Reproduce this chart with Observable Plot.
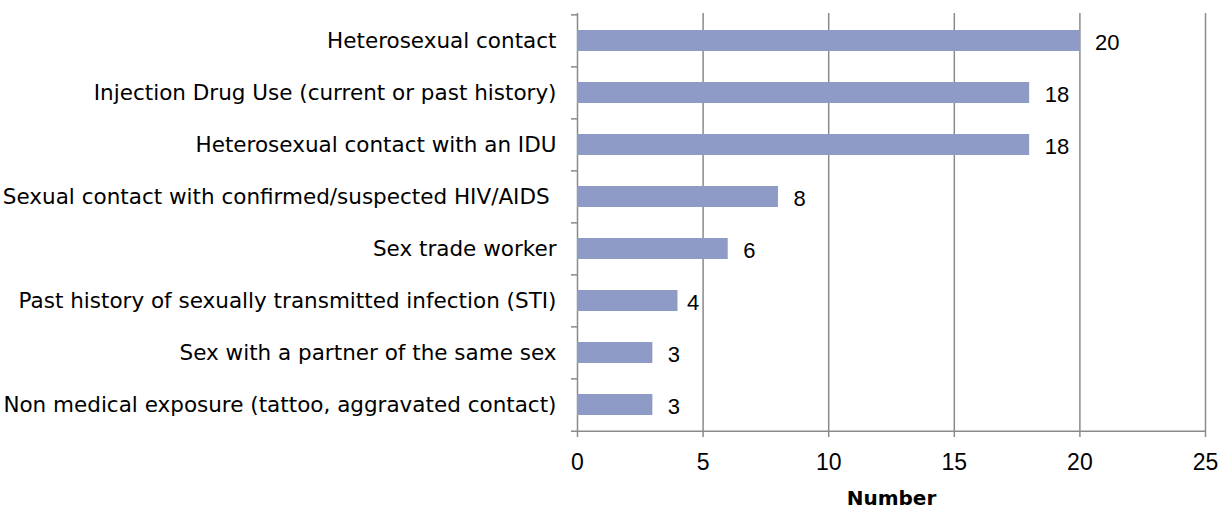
<!DOCTYPE html>
<html>
<head>
<meta charset="utf-8">
<script src="https://cdn.jsdelivr.net/npm/d3@7"></script>
<script src="https://cdn.jsdelivr.net/npm/@observablehq/plot@0.6"></script>
<style>
  html, body { margin: 0; padding: 0; background: #fff; }
  #chart { width: 1224px; height: 508px; }
</style>
</head>
<body>
<div id="chart"></div>
<script>
const categories = [
  "Heterosexual contact",
  "Injection Drug Use (current or past history)",
  "Heterosexual contact with an IDU",
  "Sexual contact with confirmed/suspected HIV/AIDS\u00a0",
  "Sex trade worker",
  "Past history of sexually transmitted infection (STI)",
  "Sex with a partner of the same sex",
  "Non medical exposure (tattoo, aggravated contact)"
];
const values = [20, 18, 18, 8, 6, 4, 3, 3];
const xTicks = [0, 5, 10, 15, 20, 25];
const gridTicks = [5, 10, 15, 20, 25];
const xLabel = "Number";

const data = categories.map((c, i) => ({category: c, value: values[i]}));

const W = 1224, H = 508;
const mL = 577, mR = 19, mT = 13, mB = 77;
const step = (H - mT - mB) / categories.length;
const gray = "#8a8a8a";
const numFont = "'Liberation Sans', Arial, sans-serif";
const labelFont = "'DejaVu Sans', sans-serif";
// labels that sit right next to a gridline are pulled closer to their bar
const nearGrid = d => gridTicks.includes(d.value) || gridTicks.includes(d.value + 1);

const chart = Plot.plot({
  width: W,
  height: H,
  marginLeft: mL,
  marginRight: mR,
  marginTop: mT,
  marginBottom: mB,
  style: {fontFamily: numFont, background: "#fff", color: "#000"},
  x: {domain: [0, 25], axis: null},
  y: {domain: categories, paddingInner: 0.6, paddingOuter: 0.3, axis: null},
  marks: [
    Plot.ruleX(gridTicks, {stroke: gray, strokeWidth: 1.5, insetBottom: -6}),
    Plot.ruleX([0], {stroke: gray, strokeWidth: 1.5, insetBottom: -6}),
    Plot.ruleY(categories, {y: d => d, x1: 0, x2: 0, insetLeft: -6, dy: -step / 2, stroke: gray, strokeWidth: 1.5}),
    Plot.ruleY([categories[categories.length - 1]], {y: d => d, x1: 0, x2: 25, insetLeft: -6, dy: step / 2, stroke: gray, strokeWidth: 1.5}),
    Plot.barX(data, {y: "category", x: "value", fill: "#8e9bc7"}),
    Plot.text(data, {filter: d => !(d.value === 4), y: "category", x: "value", text: d => String(d.value), textAnchor: "start", dx: 15, dy: 2, fontSize: 22, fill: "#000"}),
    Plot.text(data, {filter: d => d.value === 4, y: "category", x: "value", text: d => String(d.value), textAnchor: "start", dx: 9, dy: 2, fontSize: 22, fill: "#000"}),
    Plot.axisY({tickSize: 0, tickPadding: 21, fontSize: 21.5, fontFamily: labelFont, label: null, color: "#000", textOverflow: null}),
    Plot.axisX({ticks: xTicks, tickSize: 0, tickPadding: 22, fontSize: 23, label: null, color: "#000"}),
    Plot.text([xLabel], {frameAnchor: "bottom", dy: 73, fontSize: 20, fontFamily: labelFont, fontWeight: "bold", fill: "#000"})
  ]
});

document.getElementById("chart").appendChild(chart);
</script>
</body>
</html>
